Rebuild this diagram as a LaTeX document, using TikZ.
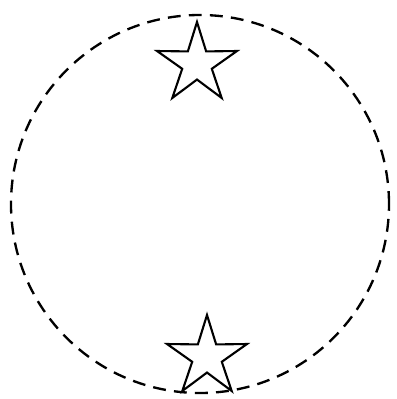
\documentclass[tikz,border=0pt]{standalone}
\usetikzlibrary{shapes.geometric}
\begin{document}
\begin{tikzpicture}[x=0.03cm, y=-0.03cm,
    ring/.style={circle, draw, dash pattern=on 11pt off 7pt, line width=2pt, minimum size=11.34cm, inner sep=0pt},
    starmark/.style={star, star points=5, star point ratio=2.7, draw, line width=1.8pt, minimum size=2.52cm, inner sep=0pt}
]
    \useasboundingbox (0,0) rectangle (396,399);
    % dashed circle
    \node (ring) [ring] at (200,204) {};
    % the two stars
    \node (topstar) [starmark] at (197,64) {};
    \node (botstar) [starmark] at (207,357) {};
\end{tikzpicture}
\end{document}
